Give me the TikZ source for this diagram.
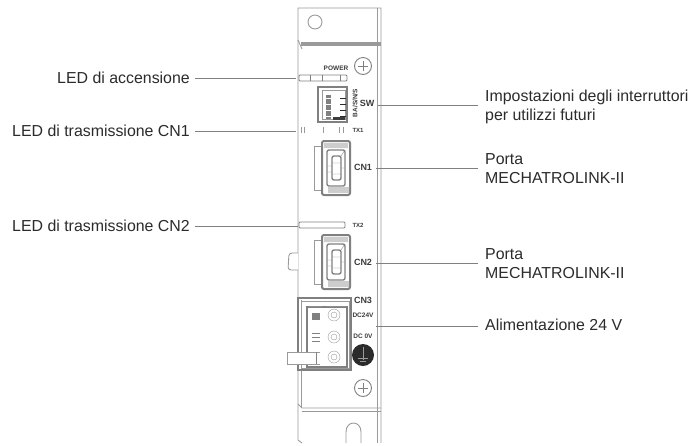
\documentclass[tikz,border=0pt]{standalone}
\usepackage{fontspec}
\setmainfont{Liberation Sans}
\usepackage{tikz}
\usetikzlibrary{calc}
\definecolor{ink}{HTML}{2B2B2B}
\definecolor{plategray}{HTML}{9A9A9A}
\definecolor{silkink}{HTML}{3C3C3C}
\tikzset{
    lblleft/.style={anchor=east, inner xsep=5pt, inner ysep=0pt, text=ink,
        font=\fontsize{15.9}{20}\selectfont, text height=11.5pt, text depth=0pt},
    lblright/.style={anchor=north west, inner xsep=7pt, inner ysep=0pt, text=ink, align=left,
        font=\fontsize{15.9}{19.6}\selectfont},
    leader/.style={draw=gray, line width=0.7pt},
    panel/.style={draw=plategray, line width=0.9pt},
    part/.style={draw=gray, line width=1.1pt},
    silk/.style={text=silkink, inner sep=0pt, font=\bfseries\fontsize{6.5}{7}\selectfont},
}
\begin{document}
\begin{tikzpicture}[x=1pt, y=-1pt]
    \useasboundingbox (0,0) rectangle (693,445);
    % front plate
    \draw[panel] (302,443) -- (298,440) -- (298,8) -- (381,8) -- (381,443);
    \draw[panel] (377,8) -- (377,443);
    \fill[plategray] (301,42) rectangle (381,46);
    \draw[panel] (298,40) -- (302,49);
    \draw[panel] (298,404) -- (302,408) -- (381,408);
    \draw[panel] (302,411) -- (381,411);
    \draw[panel] (301,300) -- (301,408);
    \draw[panel] (346,443) -- (346,432) .. controls (346,420) and (361,420) .. (361,432) -- (361,443);
    \draw[panel] (315,22) circle (7);
    \foreach \sy in {66,388} {
        \draw[part, line width=0.9pt] (363,\sy) circle (8.5);
        \draw[gray] (358,\sy) -- (368,\sy) (363,\sy-5) -- (363,\sy+5);
    }
    % LED bars
    \draw[part, rounded corners=1pt, line width=0.9pt] (299,75) rectangle (347,81);
    \draw[gray, line width=0.5pt] (310,75) -- (310,81) (322,75) -- (322,81) (340,75) -- (340,81);
    \draw[part, rounded corners=1pt, line width=0.9pt] (299,222) rectangle (345,228);
    \foreach \tx in {301,304,323,339,343} {
        \draw[plategray] (\tx,127) -- (\tx,133);
    }
    % SW block
    \draw[part] (318,87) rectangle (347,122);
    \draw[plategray] (322,90) rectangle (345,119);
    \fill[gray] (326,95) rectangle (331,119);
    \foreach \ty in {98,104,110,116} {
        \draw[ink, line width=1pt] (340,\ty) -- (346,\ty);
        \draw[white, line width=0.8pt] (326,\ty) -- (331,\ty);
    }
    \fill[silkink] (333,117) rectangle (345,120);
    % connectors CN1 and CN2
    \foreach \cy in {0,94} {
        \begin{scope}[shift={(0,\cy)}]
            \draw[plategray] (322,146) -- (314,146) -- (314,190) -- (322,190);
            \draw[part, line width=2pt, rounded corners=2pt] (322,141) rectangle (350,195);
            \fill[plategray!50] (324,143) rectangle (348,148) (328,187) rectangle (349,193);
            \draw[part, line width=1.4pt, rounded corners=2pt] (327,150) rectangle (345,186);
            \draw[part, line width=1.4pt, rounded corners=2pt] (332,156) rectangle (341,180);
            \draw[gray] (327,166) -- (332,166) (327,172) -- (332,172) (341,156) -- (345,150)
                (332,163) -- (341,163) (332,174) -- (341,174) (341,168) -- (345,168);
        \end{scope}
    }
    \draw[panel, fill=white, rounded corners=3pt] (298,253) -- (289,253) -- (288,270) -- (298,270);
    % CN3 terminal
    \draw[part] (298,298) rectangle (351,370);
    \draw[part, line width=1.6pt] (307,307) rectangle (347,367);
    \draw[plategray] (301,301) rectangle (349,368);
    \fill[white] (309,300) rectangle (322,306) (327,300) rectangle (346,306);
    \draw[plategray] (309,301) -- (322,301) (327,301) -- (346,301);
    \foreach \ty in {315,337,357} {
        \draw[plategray] (334,\ty) circle (6);
        \draw[plategray] (334,\ty) circle (3);
    }
    \fill[gray] (312,313) rectangle (320,320);
    \draw[gray] (312,333) -- (320,333) (312,337) -- (320,337) (312,341) -- (320,341);
    \draw[panel, fill=white] (320,352) -- (287,352) -- (287,364) -- (320,364);
    \draw[gray] (316,352) -- (316,364);
    % ground symbol
    \fill[ink] (363,355) circle (11);
    \draw[plategray, line width=0.8pt] (363,347) -- (363,360) (358,358) -- (368,358) (360,361) -- (366,361);
    % silk screen
    \node[silk] (txtpower) at (336,68) {POWER};
    \node[silk, rotate=90] (txtdip) at (355,103) {BA/S/N/S};
    \node[silk, font=\bfseries\fontsize{9}{10}\selectfont] (txtsw) at (367,103) {SW};
    \node[silk, font=\bfseries\fontsize{6}{7}\selectfont] (txttxa) at (358,130) {TX1};
    \node[silk, font=\bfseries\fontsize{9}{10}\selectfont] (txtcna) at (363,167) {CN1};
    \node[silk, font=\bfseries\fontsize{6}{7}\selectfont] (txttxb) at (358,225) {TX2};
    \node[silk, font=\bfseries\fontsize{9}{10}\selectfont] (txtcnb) at (363,262) {CN2};
    \node[silk, font=\bfseries\fontsize{9}{10}\selectfont] (txtcnc) at (363,300) {CN3};
    \node[silk] (txtdc) at (363,315) {DC24V};
    \node[silk] (txtdz) at (363,336) {DC 0V};
    % labels
    \node[lblleft] (lblpower) at (195,78) {LED di accensione};
    \node[lblleft] (lbltxa) at (195,131) {LED di trasmissione CN1};
    \node[lblleft] (lbltxb) at (195,226) {LED di trasmissione CN2};
    \node[lblright] (lblsw) at (478,89.5) {Impostazioni degli interruttori\\per utilizzi futuri};
    \node[lblright] (lblcna) at (478,153) {Porta\\MECHATROLINK-II};
    \node[lblright] (lblcnb) at (478,248) {Porta\\MECHATROLINK-II};
    \node[lblright] (lblpow) at (478,319) {Alimentazione 24 V};
    % leaders
    \coordinate (ledpower) at (296,78);
    \coordinate (ledtxa) at (296,131);
    \coordinate (ledtxb) at (298,226);
    \coordinate (portsw) at (378,105);
    \coordinate (portcna) at (376,168);
    \coordinate (portcnb) at (376,263);
    \coordinate (portpow) at (376,326);
    \draw[leader] (lblpower) -- (ledpower);
    \draw[leader] (lbltxa) -- (ledtxa);
    \draw[leader] (lbltxb) -- (ledtxb);
    \draw[leader] (portsw) -- (portsw -| lblsw.west);
    \draw[leader] (portcna) -- (portcna -| lblcna.west);
    \draw[leader] (portcnb) -- (portcnb -| lblcnb.west);
    \draw[leader] (portpow) -- (portpow -| lblpow.west);
\end{tikzpicture}
\end{document}
